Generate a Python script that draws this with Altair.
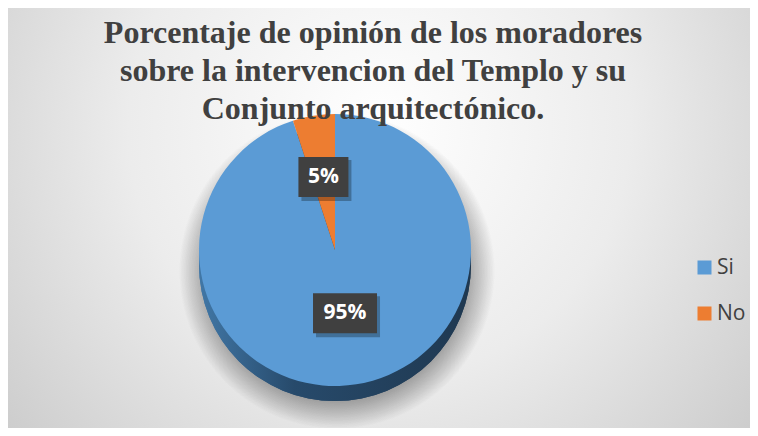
import altair as alt
import pandas as pd

# ---- data ----
categories = ["Si", "No"]
values = [95, 5]
colors = ["#5b9bd5", "#ed7d31"]
title_lines = [
    "Porcentaje de opinión de los moradores",
    "sobre la intervencion del Templo y su",
    "Conjunto arquitectónico.",
]

df = pd.DataFrame({"category": categories, "value": values, "order": list(range(len(categories)))})

# ---- layout (pixels inside the chart) ----
W, H = 742, 420
CX, CY = 327, 242
R = 136
DEPTH = 15

color_scale = alt.Scale(domain=categories, range=colors)
xs = alt.Scale(domain=[0, W], range=[0, W], nice=False, zero=False)
ys = alt.Scale(domain=[0, H], range=[0, H], nice=False, zero=False)

base = alt.Chart(df)

background = base.mark_rect(
    fill=alt.Gradient(
        gradient="radial",
        x1=0.5, y1=0.38, r1=0.0,
        x2=0.5, y2=0.38, r2=0.75,
        stops=[
            alt.GradientStop(offset=0.0, color="#ffffff"),
            alt.GradientStop(offset=0.45, color="#ececec"),
            alt.GradientStop(offset=1.0, color="#c2c2c2"),
        ],
    )
).encode(x=alt.value(0), x2=alt.value(W), y=alt.value(0), y2=alt.value(H))

shadow = base.mark_arc(
    theta=0, theta2=6.2832, outerRadius=R + 22,
    fill=alt.Gradient(
        gradient="radial",
        x1=0.5, y1=0.5, r1=0.0,
        x2=0.5, y2=0.5, r2=0.5,
        stops=[
            alt.GradientStop(offset=0.0, color="rgba(0,0,0,0.0)"),
            alt.GradientStop(offset=0.8, color="rgba(0,0,0,0.2)"),
            alt.GradientStop(offset=1.0, color="rgba(0,0,0,0.0)"),
        ],
    ),
).encode(x=alt.value(CX + 2), y=alt.value(CY + DEPTH + 6))

side = base.mark_arc(
    theta=0, theta2=6.2832, outerRadius=R,
    fill=alt.Gradient(
        gradient="linear",
        x1=0, y1=0.5, x2=1, y2=0.5,
        stops=[
            alt.GradientStop(offset=0.0, color="#4177a6"),
            alt.GradientStop(offset=0.35, color="#274a6b"),
            alt.GradientStop(offset=1.0, color="#1f3850"),
        ],
    ),
).encode(x=alt.value(CX), y=alt.value(CY + DEPTH))

pie = base.mark_arc(outerRadius=R).encode(
    theta=alt.Theta("value:Q", stack=True),
    color=alt.Color(
        "category:N",
        scale=color_scale,
        sort=categories,
        legend=alt.Legend(
            title=None,
            orient="none",
            legendX=686,
            legendY=249,
            symbolType="square",
            symbolSize=196,
            symbolStrokeWidth=0,
            labelFont="Open Sans",
            labelFontSize=21,
            labelColor="#404040",
            labelOffset=2,
            rowPadding=24,
            padding=0,
        ),
    ),
    order=alt.Order("order:Q"),
    x=alt.value(CX),
    y=alt.value(CY),
)

labels_base = (
    base.transform_window(cum="sum(value)", sort=[alt.SortField("order")], frame=[None, 0])
    .transform_joinaggregate(total="sum(value)")
    .transform_calculate(mid="2*PI*(datum.cum - datum.value/2)/datum.total")
    .transform_calculate(r="datum.category == 'No' ? 74 : 64")
    .transform_calculate(
        lx=f"{CX} + datum.r*sin(datum.mid)",
        ly=f"{CY} - datum.r*cos(datum.mid)",
        label="format(datum.value/datum.total, '.0%')",
    )
    .transform_calculate(bw="22 + 14*length(datum.label)")
    .transform_calculate(
        bx1="datum.lx - datum.bw/2",
        bx2="datum.lx + datum.bw/2",
        by1="datum.ly - 20",
        by2="datum.ly + 20",
        sx1="datum.lx - datum.bw/2 + 3",
        sx2="datum.lx + datum.bw/2 + 3",
        sy1="datum.ly - 17",
        sy2="datum.ly + 24",
    )
)

box_shadow = labels_base.mark_rect(fill="rgba(0,0,0,0.28)").encode(
    x=alt.X("sx1:Q", scale=xs, axis=None),
    x2="sx2:Q",
    y=alt.Y("sy1:Q", scale=ys, axis=None),
    y2="sy2:Q",
)

box = labels_base.mark_rect(fill="#404040").encode(
    x=alt.X("bx1:Q", scale=xs, axis=None),
    x2="bx2:Q",
    y=alt.Y("by1:Q", scale=ys, axis=None),
    y2="by2:Q",
)

text = labels_base.mark_text(
    font="Open Sans", fontSize=21, fontWeight="bold", color="white", baseline="middle", align="center"
).encode(
    x=alt.X("lx:Q", scale=xs, axis=None),
    y=alt.Y("ly:Q", scale=ys, axis=None),
    text="label:N",
)

chart = (
    alt.layer(background, shadow, side, pie, box_shadow, box, text)
    .properties(
        width=W,
        height=H,
        padding=0,
        autosize=alt.AutoSizeParams(type="none"),
        title=alt.TitleParams(
            text=title_lines,
            font="Liberation Serif",
            fontSize=32,
            fontWeight="bold",
            color="#404040",
            lineHeight=38,
            anchor="middle",
            offset=-118,
            dx=-6,
        ),
    )
    .configure_view(stroke=None)
)

chart.save("out.html", embed_options={"renderer": "svg", "actions": False})
